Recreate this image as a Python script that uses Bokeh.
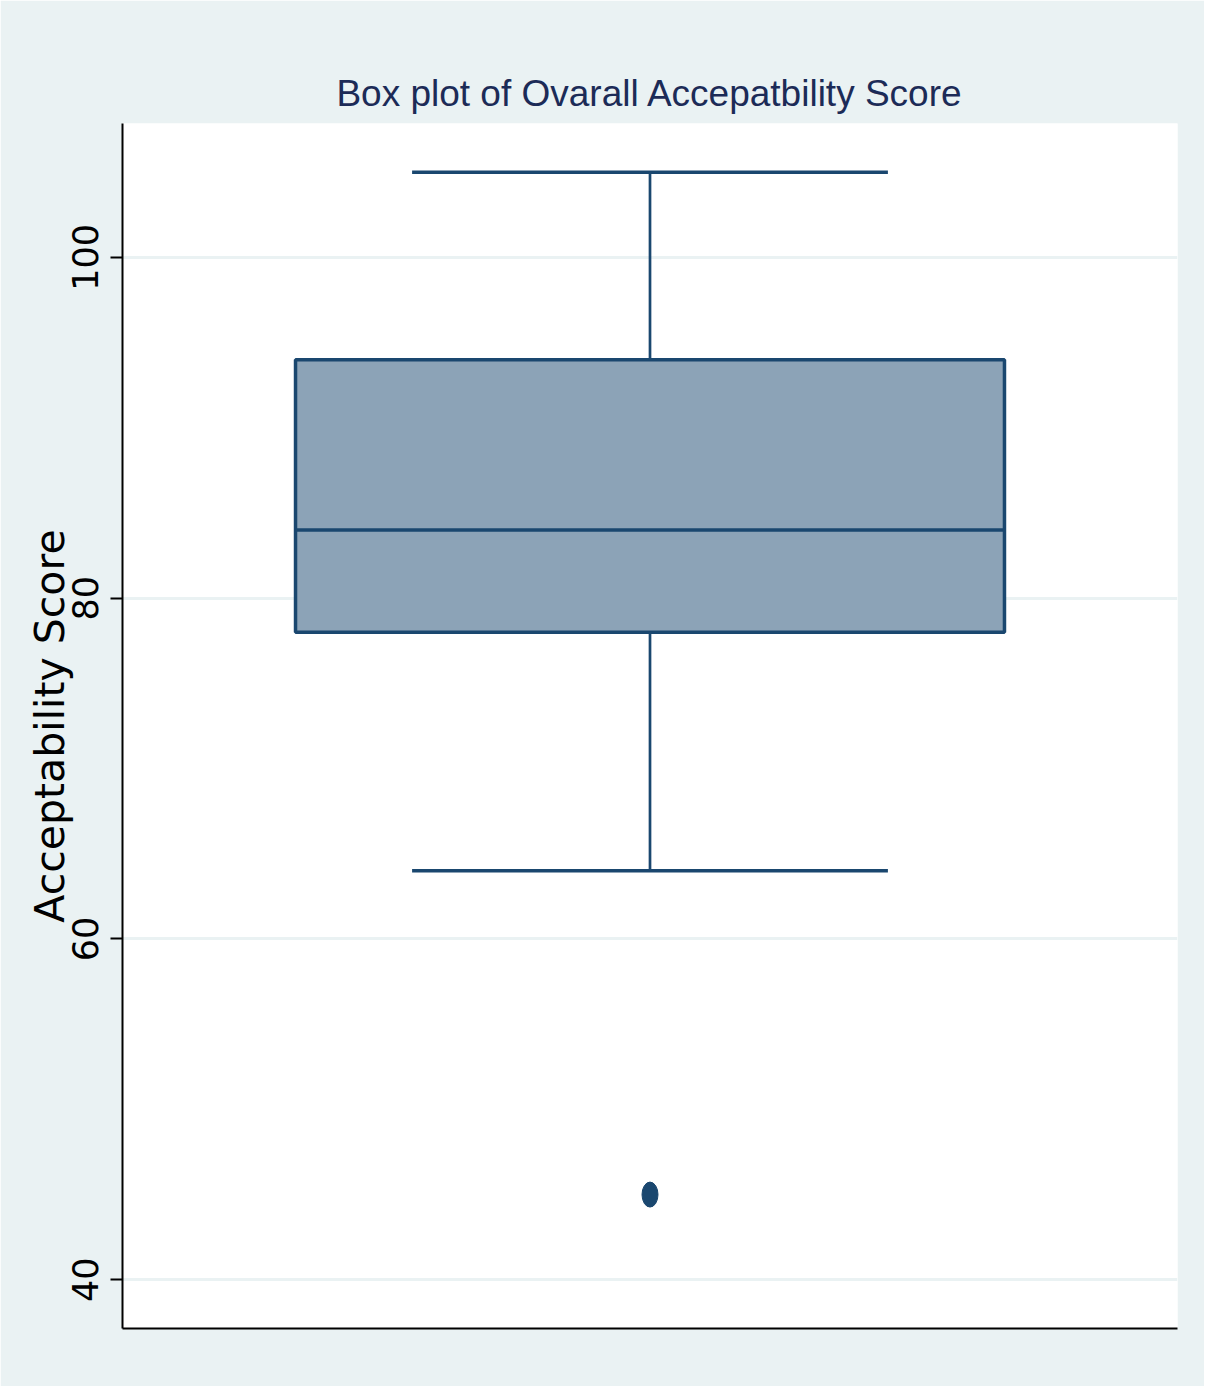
from bokeh.plotting import figure
from bokeh.models import Range1d, FixedTicker, Title
from bokeh.embed import file_html
from bokeh.resources import INLINE

# ---- data ----
title_text = "Box plot of Ovarall Accepatbility Score"
y_label = "Acceptability Score"
y_ticks = [40, 60, 80, 100]
lower_whisker = [64]
q1 = [78]
median = [84]
q3 = [94]
upper_whisker = [105]
outliers = [45]
center = [0]

# ---- style ----
BG = "#EAF2F3"
NAVY = "#1A476F"
FILL = "#8CA3B7"
BOX_HALF = 0.672
CAP_HALF = 0.451

p = figure(width=1204, height=1386, output_backend="svg", toolbar_location=None,
           x_range=Range1d(-1, 1), y_range=Range1d(37.14, 107.86),
           min_border_left=122, min_border_top=123, min_border_right=27,
           min_border_bottom=58)
p.background_fill_color = "white"
p.border_fill_color = BG
p.outline_line_color = None

p.title = Title(text=title_text, align="center",
                text_font="Liberation Sans",
                text_font_size="37px", text_font_style="normal",
                text_color="#1C2B57", standoff=20)

# grid
p.xgrid.grid_line_color = None
p.ygrid.grid_line_color = BG
p.ygrid.grid_line_width = 3
p.ygrid.ticker = FixedTicker(ticks=y_ticks)

# y axis
p.yaxis.ticker = FixedTicker(ticks=y_ticks)
p.yaxis.axis_line_color = "black"
p.yaxis.axis_line_width = 2
p.yaxis.major_tick_line_color = "black"
p.yaxis.major_tick_line_width = 2
p.yaxis.major_tick_out = 12
p.yaxis.major_tick_in = 0
p.yaxis.minor_tick_line_color = None
p.yaxis.major_label_orientation = "vertical"
p.yaxis.major_label_standoff = 12
p.yaxis.major_label_text_font = "DejaVu Sans"
p.yaxis.major_label_text_font_size = "35px"
p.yaxis.major_label_text_color = "black"
p.yaxis.axis_label = y_label
p.yaxis.axis_label_text_font = "DejaVu Sans"
p.yaxis.axis_label_text_font_size = "41px"
p.yaxis.axis_label_text_font_style = "normal"
p.yaxis.axis_label_text_color = "black"
p.yaxis.axis_label_standoff = -4

# x axis: line only
p.xaxis.ticker = FixedTicker(ticks=[])
p.xaxis.axis_line_color = "black"
p.xaxis.axis_line_width = 2
p.xaxis.major_tick_line_color = None
p.xaxis.minor_tick_line_color = None

# whiskers
p.segment(x0=center, y0=q3, x1=center, y1=upper_whisker, line_color=NAVY, line_width=2.7)
p.segment(x0=center, y0=lower_whisker, x1=center, y1=q1, line_color=NAVY, line_width=2.7)
p.segment(x0=[c - CAP_HALF for c in center], y0=upper_whisker,
          x1=[c + CAP_HALF for c in center], y1=upper_whisker, line_color=NAVY, line_width=3.5)
p.segment(x0=[c - CAP_HALF for c in center], y0=lower_whisker,
          x1=[c + CAP_HALF for c in center], y1=lower_whisker, line_color=NAVY, line_width=3.5)

# box
p.quad(left=[c - BOX_HALF for c in center], right=[c + BOX_HALF for c in center],
       bottom=q1, top=q3, fill_color=FILL, line_color=NAVY, line_width=3.5)
p.segment(x0=[c - BOX_HALF for c in center], y0=median,
          x1=[c + BOX_HALF for c in center], y1=median, line_color=NAVY, line_width=3.5)

# outliers
p.ellipse(x=[0] * len(outliers), y=outliers, width=16, height=25,
          width_units="screen", height_units="screen",
          fill_color=NAVY, line_color=NAVY)

open("out.html", "w").write(file_html(p, INLINE))
